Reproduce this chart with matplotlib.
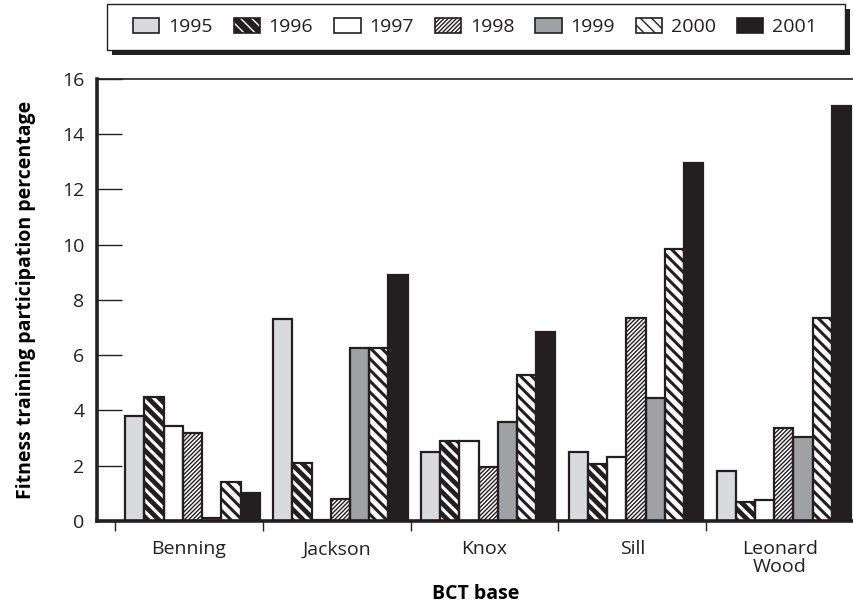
import numpy as np
import matplotlib.pyplot as plt
from matplotlib.patches import Patch, Rectangle

plt.rcParams['font.family'] = ['Open Sans', 'DejaVu Sans']
plt.rcParams['text.color'] = '#231f20'
plt.rcParams['xtick.color'] = '#231f20'
plt.rcParams['ytick.color'] = '#231f20'

bases = ['Benning', 'Jackson', 'Knox', 'Sill', 'Leonard\nWood']
years = ['1995', '1996', '1997', '1998', '1999', '2000', '2001']
values = {
    '1995': [3.8, 7.3, 2.5, 2.5, 1.8],
    '1996': [4.5, 2.1, 2.9, 2.05, 0.7],
    '1997': [3.45, 0.05, 2.9, 2.3, 0.75],
    '1998': [3.2, 0.8, 1.95, 7.35, 3.35],
    '1999': [0.1, 6.25, 3.6, 4.45, 3.05],
    '2000': [1.4, 6.25, 5.3, 9.85, 7.35],
    '2001': [1.0, 8.9, 6.85, 12.95, 15.0],
}

# face, hatch, hatch colour, hatch width
styles = {
    '1995': ('#d9dadc', '', 'black', 1.0),
    '1996': ('#231f20', '\\\\\\', 'white', 2.2),
    '1997': ('white', '', 'black', 1.0),
    '1998': ('white', '////////', '#231f20', 1.0),
    '1999': ('#a0a1a5', '', 'black', 1.0),
    '2000': ('white', '\\\\\\', '#231f20', 2.2),
    '2001': ('#231f20', '', 'black', 1.0),
}

W, H = 854, 607
fig = plt.figure(figsize=(W / 100, H / 100), dpi=100)
ax = fig.add_axes([0.1136, 0.1417, 0.8864, 0.7284])

x = np.arange(len(bases))
w = 0.13
offset0 = -0.43 + w / 2

handles = []
for i, yr in enumerate(years):
    face, hatch, hcol, hlw = styles[yr]
    pos = x + offset0 + i * w
    with plt.rc_context({'hatch.linewidth': hlw}):
        ax.bar(pos, values[yr], width=w, color=face, hatch=hatch,
               edgecolor=hcol, linewidth=0, zorder=2)
        ax.bar(pos, values[yr], width=w, fill=False, edgecolor='#231f20',
               linewidth=1.6, zorder=3)
        handles.append(Patch(facecolor=face, hatch=hatch, edgecolor=hcol, linewidth=0))

ax.set_xlim(-0.621, 4.5)
ax.set_ylim(0, 16)
ax.set_yticks(np.arange(0, 17, 2))
ax.tick_params(axis='y', direction='in', length=18, width=1.0, labelsize=14, pad=9)

ax.set_xticks(x)
ax.set_xticklabels(bases, fontsize=14, linespacing=0.95)
ax.tick_params(axis='x', which='major', length=0, pad=14)
ax.set_xticks(np.arange(-0.5, 4.0, 1.0), minor=True)
ax.tick_params(axis='x', which='minor', direction='out', length=7, width=1.0)

ax.spines['left'].set_linewidth(2.6)
ax.spines['bottom'].set_linewidth(2.6)
ax.spines['top'].set_linewidth(1.2)
ax.spines['right'].set_visible(False)
for s in ax.spines.values():
    s.set_color('#231f20')

ax.set_xlabel('BCT base', fontsize=14, fontweight='bold', labelpad=6)
ax.set_ylabel('Fitness training participation percentage', fontsize=14,
              fontweight='bold', labelpad=19)

# legend content, frame drawn separately
leg = fig.legend(handles, years, ncol=7, loc='center',
                 bbox_to_anchor=(133 / W, 1 - 50 / H, (817 - 133) / W, 46 / H),
                 mode='expand', fontsize=14, handlelength=1.35, handleheight=0.8,
                 handletextpad=0.45, columnspacing=1.1, borderaxespad=0,
                 borderpad=0, frameon=False)
leg.set_zorder(6)

# legend frame with drop shadow
bx0, by0, bx1, by1 = 107 / W, 1 - 50 / H, 845 / W, 1 - 4 / H
dx, dy = 5 / W, 5 / H
fig.patches.append(Rectangle((bx0 + dx, by0 - dy), bx1 - bx0, by1 - by0,
                             facecolor='#231f20', edgecolor='none',
                             transform=fig.transFigure, figure=fig, zorder=4))
fig.patches.append(Rectangle((bx0, by0), bx1 - bx0, by1 - by0,
                             facecolor='white', edgecolor='#231f20', linewidth=1.0,
                             transform=fig.transFigure, figure=fig, zorder=5))

fig.canvas.draw()
inv = fig.transFigure.inverted()

# outline the legend swatches
for h in leg.legend_handles:
    bb = h.get_window_extent()
    (x0, y0), (x1, y1) = inv.transform([[bb.x0, bb.y0], [bb.x1, bb.y1]])
    fig.patches.append(Rectangle((x0, y0), x1 - x0, y1 - y0, fill=False,
                                 edgecolor='#231f20', linewidth=1.2,
                                 transform=fig.transFigure, figure=fig, zorder=10))

fig.savefig('out.png', dpi=100)
